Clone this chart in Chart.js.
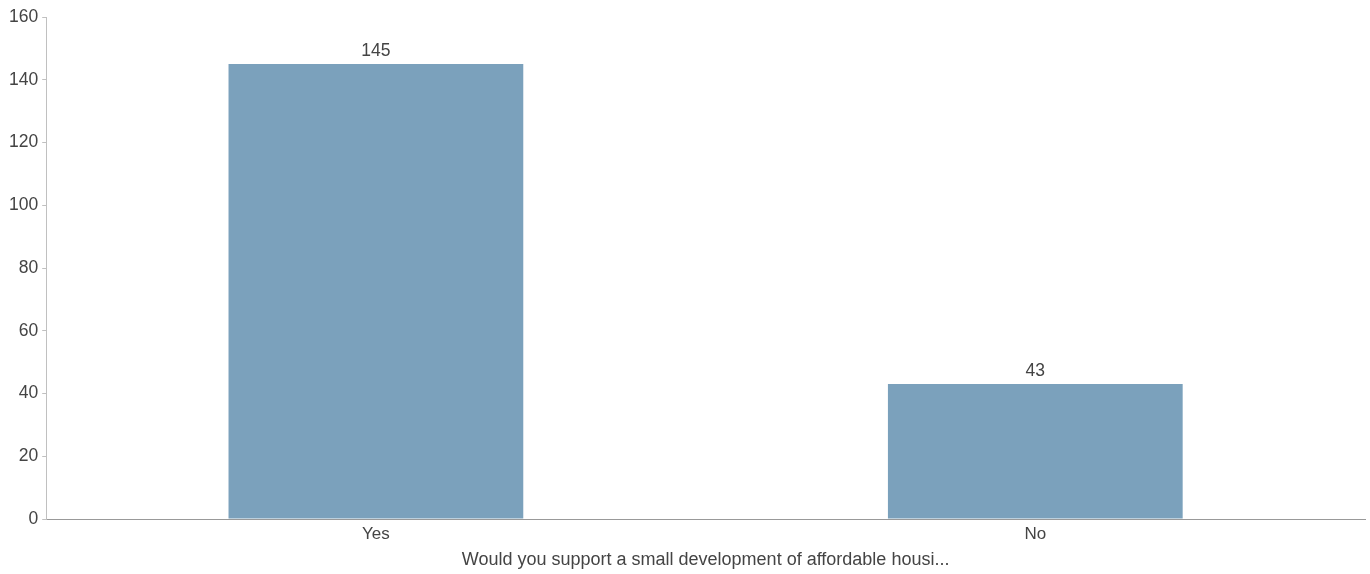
<!DOCTYPE html>
<html>
<head>
<meta charset="utf-8">
<script src="https://cdn.jsdelivr.net/npm/chart.js@4/dist/chart.umd.min.js"></script>
<style>
  html, body { margin: 0; padding: 0; background: #fff; }
  #wrap { width: 1370px; height: 574px; }
</style>
</head>
<body>
<div id="wrap"><canvas id="chart"></canvas></div>
<script>
// Respuestas a la pregunta
var categories = ['Yes', 'No'];
var counts = [145, 43];
var axisTitle = 'Would you support a small development of affordable housi...';

var barColor = '#7ba1bc';
var textColor = '#444444';

// Etiqueta con el valor encima de cada barra
var valueLabels = {
    id: 'valueLabels',
    afterDatasetsDraw: function(chart) {
        var ctx = chart.ctx;
        var meta = chart.getDatasetMeta(0);
        ctx.save();
        ctx.font = '17.5px "Liberation Sans", Arial, sans-serif';
        ctx.fillStyle = textColor;
        ctx.textAlign = 'center';
        ctx.textBaseline = 'alphabetic';
        meta.data.forEach(function(bar, i) {
            ctx.fillText(String(counts[i]), bar.x, bar.y - 8);
        });
        ctx.restore();
    }
};

Chart.defaults.font.family = '"Liberation Sans", Arial, sans-serif';
Chart.defaults.color = textColor;

new Chart(document.getElementById('chart'), {
    type: 'bar',
    data: {
        labels: categories,
        datasets: [{
            data: counts,
            backgroundColor: barColor,
            borderWidth: 0,
            categoryPercentage: 1,
            barPercentage: 0.447
        }]
    },
    options: {
        responsive: true,
        maintainAspectRatio: false,
        animation: false,
        layout: { padding: { top: 17, right: 5, left: 5, bottom: 3 } },
        plugins: {
            legend: { display: false },
            tooltip: { enabled: false }
        },
        scales: {
            x: {
                grid: { display: false },
                border: { display: true, color: '#999999', width: 1 },
                ticks: { font: { size: 17 }, padding: -3 },
                title: {
                    display: true,
                    text: axisTitle,
                    font: { size: 18 },
                    padding: { top: 8, bottom: 0 }
                }
            },
            y: {
                min: 0,
                max: 160,
                ticks: { stepSize: 20, font: { size: 17.5 }, padding: 4 },
                grid: {
                    drawOnChartArea: false,
                    drawTicks: true,
                    tickLength: 4,
                    color: '#c0c0c0'
                },
                border: { display: true, color: '#c0c0c0', width: 1 }
            }
        }
    },
    plugins: [valueLabels]
});
</script>
</body>
</html>
